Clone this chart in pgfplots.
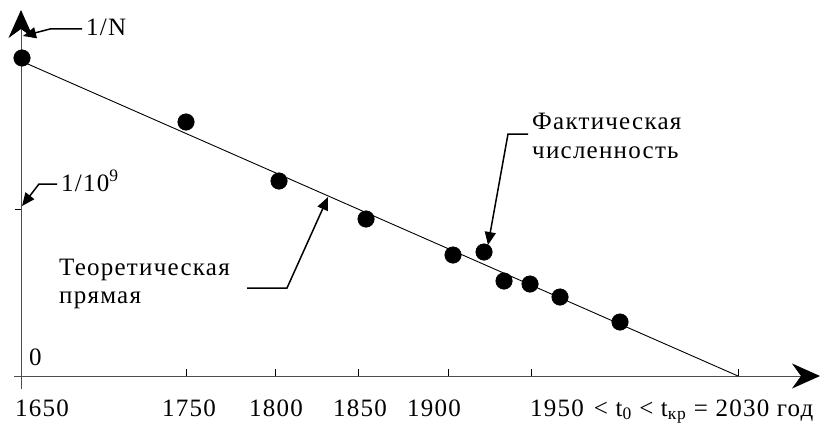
\documentclass[border=0pt]{standalone}
\usepackage{fontspec}
\setmainfont{Liberation Serif}[LetterSpace=5]
\usepackage{pgfplots}
\pgfplotsset{compat=1.18}
\usetikzlibrary{arrows.meta}
\begin{document}
\begin{tikzpicture}
\begin{axis}[x=1pt, y=1pt, xmin=-21, xmax=811, ymin=-45, ymax=376,
  hide axis, clip=false]
\path (axis cs:-21,-45) rectangle (axis cs:811,376);
% axes
\draw[black!70, line width=1pt, -{Stealth[length=28pt,width=25pt,inset=9pt,black]}] (axis cs:-7,0) -- (axis cs:799,0);
\draw[black!70, line width=1pt, -{Stealth[length=28pt,width=25pt,inset=9pt,black]}] (axis cs:0,-13) -- (axis cs:0,366);
% ticks
\pgfplotsinvokeforeach{165,254,337,427,510,717}{\draw[line width=0.8pt] (axis cs:#1,0) -- (axis cs:#1,7);}
\draw[line width=0.8pt] (axis cs:-6,167) -- (axis cs:0,167);
% theoretical line
\addplot[black, line width=0.9pt, no marks] coordinates {(0,315) (717,0)};
% actual data
\addplot[only marks, mark=*, mark size=8.3pt, black] coordinates {
(1,318) (165,254) (258,195) (345,157) (432,121) (463,124) (483,95) (509,92) (539,79) (599,54)};
% leaders
\draw[line width=1.5pt, -{Triangle[length=13pt,width=11pt]}] (axis cs:61,347) -- (axis cs:29,347) -- (axis cs:2,340);
\draw[line width=1.5pt, -{Triangle[length=13pt,width=11pt]}] (axis cs:36,192) -- (axis cs:18,192) -- (axis cs:1,170);
\draw[line width=1.5pt, -{Triangle[length=13pt,width=11pt]}] (axis cs:226,88) -- (axis cs:266,88) -- (axis cs:307,179);
\draw[line width=1.5pt, -{Triangle[length=13pt,width=11pt]}] (axis cs:507,242) -- (axis cs:487,242) -- (axis cs:467,131);
% anchor coordinates for labels
\coordinate (lN) at (axis cs:65,340);
\coordinate (l9) at (axis cs:40,185);
\coordinate (l0) at (axis cs:8,11);
\coordinate (t1) at (axis cs:38,101);
\coordinate (t2) at (axis cs:38,73);
\coordinate (f1) at (axis cs:511,247);
\coordinate (f2) at (axis cs:511,218);
\coordinate (x1) at (axis cs:21,-40);
\coordinate (x2) at (axis cs:168,-40);
\coordinate (x3) at (axis cs:255,-40);
\coordinate (x4) at (axis cs:339,-40);
\coordinate (x5) at (axis cs:413,-40);
\coordinate (x6) at (axis cs:509,-40);
\end{axis}
\begin{scope}[every node/.style={inner sep=0pt, font=\fontsize{25}{30}\selectfont}]
\node[anchor=base west] at (lN) {1/N};
\node[anchor=base west] at (l9) {1/10\textsuperscript{9}};
\node[anchor=base west] at (l0) {0};
\node[anchor=base west] at (t1) {Теоретическая};
\node[anchor=base west] at (t2) {прямая};
\node[anchor=base west] at (f1) {Фактическая};
\node[anchor=base west] at (f2) {численность};
\node[anchor=base] at (x1) {1650};
\node[anchor=base] at (x2) {1750};
\node[anchor=base] at (x3) {1800};
\node[anchor=base] at (x4) {1850};
\node[anchor=base] at (x5) {1900};
\node[anchor=base west] at (x6) {1950\hspace{0.4em}< t\textsubscript{0} < t\textsubscript{кр} = 2030 год};
\end{scope}
\end{tikzpicture}
\end{document}
